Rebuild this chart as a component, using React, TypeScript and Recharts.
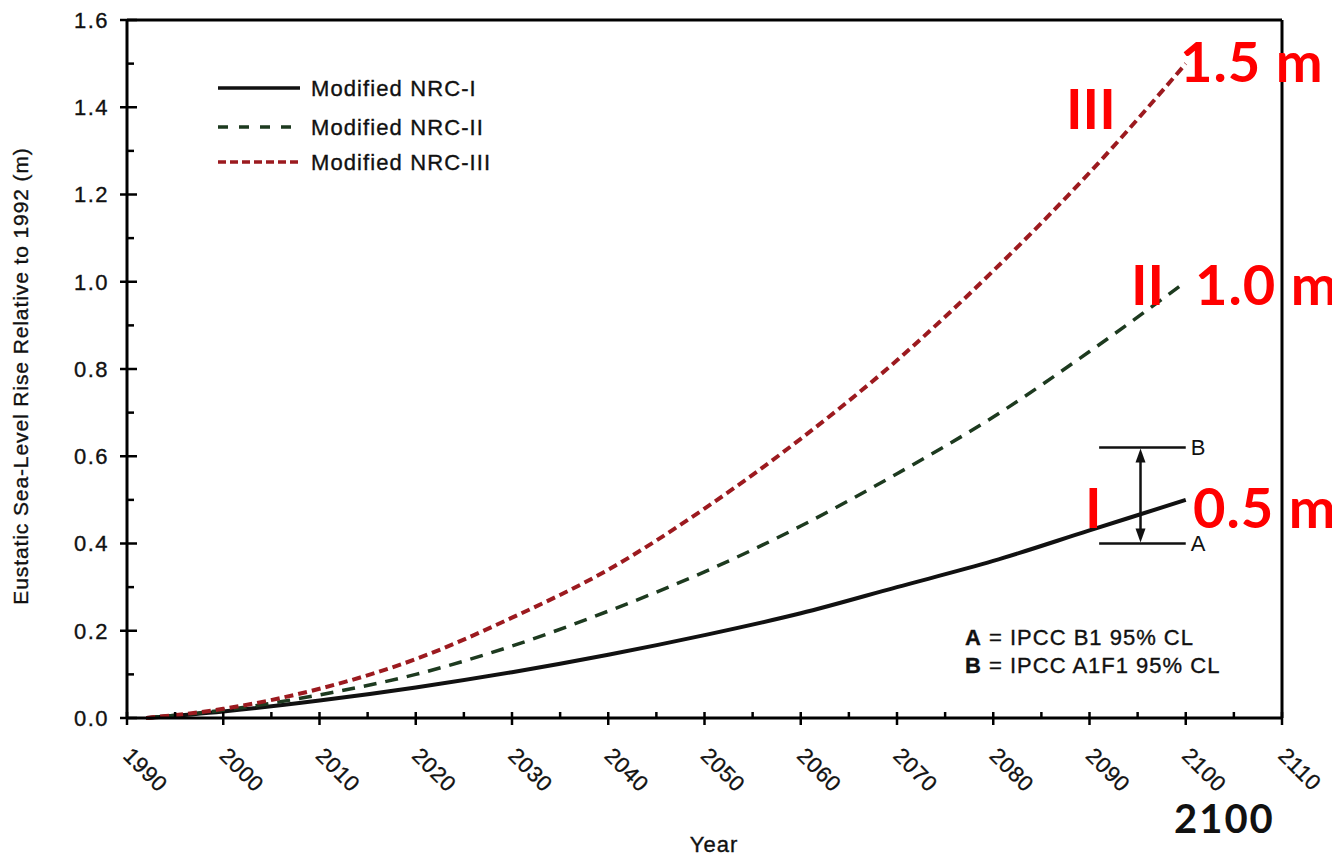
import { LineChart, Line, XAxis, YAxis, ReferenceLine } from 'recharts'

const YEARS = [1992, 2000, 2010, 2020, 2030, 2040, 2050, 2060, 2070, 2080, 2090, 2100]
const NRC_I = [0, 0.015, 0.04, 0.07, 0.105, 0.145, 0.19, 0.24, 0.3, 0.36, 0.43, 0.5]
const NRC_II = [0, 0.018, 0.053, 0.1, 0.165, 0.245, 0.335, 0.44, 0.56, 0.69, 0.84, 1.0]
const NRC_III = [0, 0.021, 0.067, 0.135, 0.23, 0.34, 0.48, 0.64, 0.82, 1.025, 1.25, 1.5]

const X_TICKS = [1990, 1995, 2000, 2005, 2010, 2015, 2020, 2025, 2030, 2035, 2040, 2045, 2050,
  2055, 2060, 2065, 2070, 2075, 2080, 2085, 2090, 2095, 2100, 2105, 2110]
const Y_TICKS = [0, 0.1, 0.2, 0.3, 0.4, 0.5, 0.6, 0.7, 0.8, 0.9, 1.0, 1.1, 1.2, 1.3, 1.4, 1.5, 1.6]

// IPCC range bracket at 2100
const IPCC_A = 0.4
const IPCC_B = 0.62
const BRACKET_YEARS = [2091, 2100]
const ARROW_YEAR = 2095.3

const SERIES = [
  { key: 'nrc1', name: 'Modified NRC-I', color: '#111111', dash: undefined, width: 4, legendDash: undefined },
  { key: 'nrc2', name: 'Modified NRC-II', color: '#1d3a1f', dash: '13 9', width: 3.5, legendDash: '10 11' },
  { key: 'nrc3', name: 'Modified NRC-III', color: '#9c1a1f', dash: '9 5', width: 4, legendDash: '8 4' },
]

const data = YEARS.map((year, i) => ({ year, nrc1: NRC_I[i], nrc2: NRC_II[i], nrc3: NRC_III[i] }))

const FONT = '"Liberation Sans", Arial, sans-serif'
const BOLD_FONT = 'Lato, "Open Sans", sans-serif'
const INK = { fill: '#111', stroke: '#111', strokeWidth: 0.35 }

function XTick(props: any) {
  const { x, y, payload } = props
  const v = payload.value
  const major = v % 10 === 0
  const tx = x - 5
  const ty = y + 39
  return (
    <g>
      <line x1={x} x2={x} y1={y - 6} y2={major ? y + 7 : y} stroke="#000" strokeWidth={2.5} />
      {major && (
        <text x={tx} y={ty} transform={`rotate(45, ${tx}, ${ty})`} fontSize={22} fontFamily={FONT}
          letterSpacing={0.6} {...INK}>{v}</text>
      )}
    </g>
  )
}

function YTick(props: any) {
  const { x, y, payload } = props
  const v = payload.value
  const major = Math.round(v * 10) % 2 === 0
  return (
    <g>
      <line x1={major ? x - 7 : x} x2={x + (major ? 10 : 7)} y1={y} y2={y} stroke="#000" strokeWidth={2.5} />
      {major && (
        <text x={x - 18} y={y} dy="0.36em" textAnchor="end" fontSize={22} fontFamily={FONT}
          letterSpacing={1.5} {...INK}>{v.toFixed(1)}</text>
      )}
    </g>
  )
}

function DoubleArrow(props: any) {
  const { x1, y1, x2, y2 } = props
  const top = Math.min(y1, y2)
  const bot = Math.max(y1, y2)
  const x = x1
  return (
    <g>
      <line x1={x} x2={x2} y1={top + 6} y2={bot - 6} stroke="#111" strokeWidth={2.5} />
      <polygon points={`${x},${top + 1} ${x - 5},${top + 15} ${x + 5},${top + 15}`} fill="#111" />
      <polygon points={`${x},${bot - 1} ${x - 5},${bot - 15} ${x + 5},${bot - 15}`} fill="#111" />
    </g>
  )
}

export default function App() {
  return (
    <div style={{ position: 'relative', width: 1324, height: 850, background: '#fff' }}>
      <LineChart width={1324} height={850} data={data} margin={{ top: 12, right: 50, left: 59, bottom: 80 }}>
        <XAxis dataKey="year" type="number" domain={[1990, 2110]} ticks={X_TICKS} interval={0}
          tick={<XTick />} tickSize={0} tickMargin={0} tickLine={false} height={60}
          axisLine={{ stroke: '#000', strokeWidth: 3 }} />
        <YAxis type="number" domain={[0, 1.6]} ticks={Y_TICKS} interval={0}
          tick={<YTick />} tickSize={0} tickMargin={0} tickLine={false} width={60}
          axisLine={{ stroke: '#000', strokeWidth: 3 }} />
        <ReferenceLine y={1.6} stroke="#000" strokeWidth={3} />
        <ReferenceLine x={2110} stroke="#000" strokeWidth={3} />
        <ReferenceLine segment={[{ x: BRACKET_YEARS[0], y: IPCC_B }, { x: BRACKET_YEARS[1], y: IPCC_B }]}
          stroke="#111" strokeWidth={2.5}
          label={{ value: 'B', position: 'right', offset: 5, fill: '#111', fontSize: 22, fontFamily: FONT }} />
        <ReferenceLine segment={[{ x: BRACKET_YEARS[0], y: IPCC_A }, { x: BRACKET_YEARS[1], y: IPCC_A }]}
          stroke="#111" strokeWidth={2.5}
          label={{ value: 'A', position: 'right', offset: 5, fill: '#111', fontSize: 22, fontFamily: FONT }} />
        <ReferenceLine segment={[{ x: ARROW_YEAR, y: IPCC_B }, { x: ARROW_YEAR, y: IPCC_A }]}
          shape={<DoubleArrow />} />
        {SERIES.map((s) => (
          <Line key={s.key} type="monotone" dataKey={s.key} name={s.name} stroke={s.color}
            strokeWidth={s.width} strokeDasharray={s.dash} dot={false} activeDot={false}
            isAnimationActive={false} />
        ))}
      </LineChart>

      <svg width={1324} height={850} style={{ position: 'absolute', left: 0, top: 0, pointerEvents: 'none' }}>
        {/* legend */}
        {SERIES.map((s, i) => {
          const ly = [80, 119, 154][i]
          return (
            <g key={s.key}>
              <line x1={210} x2={292} y1={ly} y2={ly} stroke={s.color} strokeWidth={3.5}
                strokeDasharray={s.legendDash} />
              <text x={303} y={ly + 8} fontSize={22} fontFamily={FONT} letterSpacing={1.1} {...INK}>
                {s.name}
              </text>
            </g>
          )
        })}

        {/* IPCC key */}
        <text x={957} y={637} fontSize={22} fontFamily={FONT} letterSpacing={1} {...INK}>
          <tspan fontWeight="bold">A</tspan> = IPCC B1 95% CL
        </text>
        <text x={957} y={665} fontSize={22} fontFamily={FONT} letterSpacing={1} {...INK}>
          <tspan fontWeight="bold">B</tspan> = IPCC A1F1 95% CL
        </text>

        {/* axis titles */}
        <text x={20} y={368} transform="rotate(-90, 20, 368)" textAnchor="middle" fontSize={21}
          fontFamily={FONT} letterSpacing={0.9} {...INK}>
          Eustatic Sea-Level Rise Relative to 1992 (m)
        </text>
        <text x={706} y={844} textAnchor="middle" fontSize={22} fontFamily={FONT} letterSpacing={1} {...INK}>
          Year
        </text>

        {/* red scenario callouts */}
        <g fill="#ff0000" fontFamily={BOLD_FONT} fontWeight="bold" fontSize={56}>
          <text x={1058} y={121}>III</text>
          <text x={1172} y={74} letterSpacing={1}>1.5 m</text>
          <text x={1123} y={297}>II</text>
          <text x={1187} y={297} letterSpacing={1}>1.0 m</text>
          <text x={1077} y={520}>I</text>
          <text x={1185} y={520} letterSpacing={1}>0.5 m</text>
        </g>
        <text x={1166} y={825} fill="#111" fontFamily={BOLD_FONT} fontWeight="bold" fontSize={40}
          letterSpacing={2}>2100</text>
      </svg>
    </div>
  )
}
